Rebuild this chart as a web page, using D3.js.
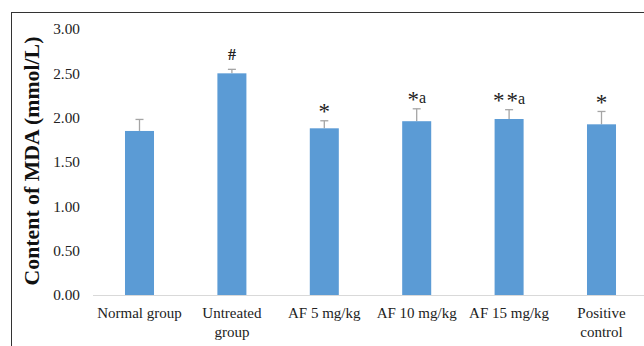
<!DOCTYPE html>
<html><head><meta charset="utf-8">
<script src="https://cdn.jsdelivr.net/npm/d3@7"></script>
<style>body{margin:0;background:#fff}svg{display:block}</style>
</head><body>
<script>
const categories = ["Normal group", "Untreated group", "AF 5 mg/kg", "AF 10 mg/kg", "AF 15 mg/kg", "Positive control"];
const labelLines = [["Normal group"], ["Untreated", "group"], ["AF 5 mg/kg"], ["AF 10 mg/kg"], ["AF 15 mg/kg"], ["Positive", "control"]];
const values = [1.85, 2.50, 1.88, 1.96, 1.985, 1.925];
const errors = [0.13, 0.045, 0.085, 0.14, 0.105, 0.145];
const marks = ["", "#", "*", "*a", "**a", "*"];
const yTicks = [0, 0.5, 1.0, 1.5, 2.0, 2.5, 3.0];

const W = 644, H = 346;
const FONT = "'Liberation Serif', 'Times New Roman', serif";
const svg = d3.select("body").append("svg").attr("width", W).attr("height", H);

// frame
svg.append("line").attr("x1", 11).attr("x2", W).attr("y1", 12.5).attr("y2", 12.5).attr("stroke", "#333").attr("stroke-width", 1);
svg.append("line").attr("x1", 11.5).attr("x2", 11.5).attr("y1", 12).attr("y2", H).attr("stroke", "#333").attr("stroke-width", 1);

const x = d3.scaleBand().domain(categories).range([93.3, 647.7]).paddingInner(0.686).paddingOuter(0.343);
const y = d3.scaleLinear().domain([0, 3]).range([295, 29]);

// y tick labels
svg.append("g").selectAll("text").data(yTicks).join("text")
  .attr("x", 80).attr("y", d => y(d)).attr("dy", "0.35em")
  .attr("text-anchor", "end")
  .attr("font-family", FONT).attr("font-size", 15.3).attr("fill", "#222")
  .text(d => d3.format(".2f")(d));

// baseline
svg.append("line").attr("x1", 93).attr("x2", W).attr("y1", y(0) + 0.5).attr("y2", y(0) + 0.5).attr("stroke", "#d9d9d9").attr("stroke-width", 1);

// error bars
const eg = svg.append("g").attr("stroke", "#a5a5a5").attr("stroke-width", 1.3);
categories.forEach((c, i) => {
  const cx = x(c) + x.bandwidth() / 2;
  eg.append("line").attr("x1", cx).attr("x2", cx).attr("y1", y(values[i])).attr("y2", y(values[i] + errors[i]));
  eg.append("line").attr("x1", cx - 4).attr("x2", cx + 4).attr("y1", y(values[i] + errors[i])).attr("y2", y(values[i] + errors[i]));
});

// bars
svg.append("g").selectAll("rect").data(categories).join("rect")
  .attr("x", d => x(d)).attr("width", x.bandwidth())
  .attr("y", (d, i) => y(values[i])).attr("height", (d, i) => y(0) - y(values[i]))
  .attr("fill", "#5b9bd5");

// significance marks
svg.append("g").selectAll("text").data(categories).join("text")
  .attr("x", d => x(d) + x.bandwidth() / 2)
  .attr("y", (d, i) => y(values[i] + errors[i]) - (marks[i] === "#" ? 9 : 6))
  .attr("text-anchor", "middle")
  .attr("font-family", FONT).attr("fill", "#222")
  .each(function(d, i) {
    const t = d3.select(this);
    let shifted = false;
    for (const ch of marks[i]) {
      if (ch === "*") {
        t.append("tspan").attr("font-size", 23).attr("dy", shifted ? 0 : 4.5).attr("dx", shifted ? 2 : 0).text("*");
        shifted = true;
      } else if (ch === "a") {
        t.append("tspan").attr("font-size", 16).attr("dy", shifted ? -4.5 : 0).text("a");
        shifted = false;
      } else {
        t.append("tspan").attr("font-size", 16).attr("font-weight", "bold").text(ch);
      }
    }
  });

// x labels
const xl = svg.append("g");
categories.forEach((c, i) => {
  const cx = x(c) + x.bandwidth() / 2;
  const t = xl.append("text").attr("x", cx).attr("y", 318).attr("text-anchor", "middle")
    .attr("font-family", FONT).attr("font-size", 15).attr("fill", "#222");
  labelLines[i].forEach((ln, j) => t.append("tspan").attr("x", cx).attr("dy", j === 0 ? 0 : 19).text(ln));
});

// y title
svg.append("text").attr("transform", "translate(39,161) rotate(-90)")
  .attr("text-anchor", "middle")
  .attr("font-family", FONT).attr("font-weight", "bold").attr("font-size", 21.8).attr("fill", "#111")
  .text("Content of MDA (mmol/L)");
</script>
</body></html>
